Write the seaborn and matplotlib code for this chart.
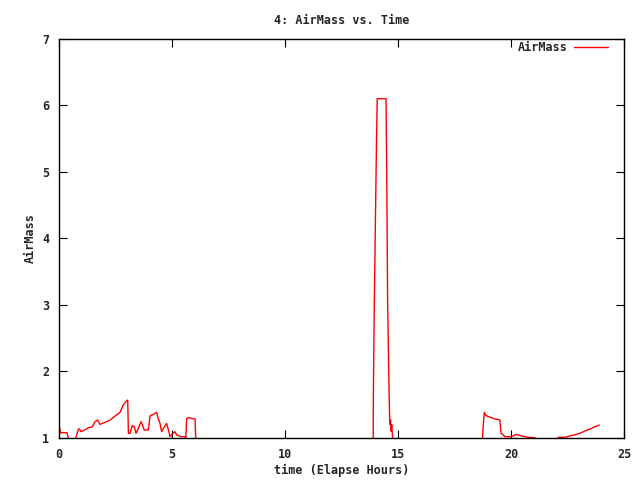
import pandas as pd
import seaborn as sns
import matplotlib.pyplot as plt

# elapsed hours and airmass (values < 1 are below the axis)
hours = [
    0.00, 0.07, 0.27, 0.35, 0.41, 0.45, 0.70, 0.74, 0.86, 0.91, 0.97, 1.22, 1.30,
    1.47, 1.59, 1.71, 1.81, 2.04, 2.26, 2.48, 2.70, 2.85, 2.99, 3.04, 3.07,
    3.14, 3.24, 3.33, 3.41, 3.51, 3.63, 3.69, 3.77, 3.95, 4.03, 4.17, 4.32,
    4.40, 4.47, 4.54, 4.62, 4.76, 4.84, 4.91, 4.99, 5.13, 5.21, 5.40, 5.58,
    5.61, 5.65, 5.72, 5.87, 6.02, 6.06, 6.10,
    13.88, 13.90, 13.91, 13.95, 14.00, 14.05, 14.08, 14.47, 14.50, 14.54,
    14.60, 14.63, 14.65, 14.67, 14.70, 14.72, 14.76, 14.78, 14.82,
    18.70, 18.73, 18.76, 18.82, 18.88, 19.00, 19.15, 19.29, 19.41, 19.51,
    19.56, 19.66, 19.73, 19.88, 19.95, 20.10, 20.21, 20.32, 20.47, 20.62,
    20.77, 21.06, 21.15,
    22.00, 22.09, 22.39, 22.61, 22.83, 23.05, 23.27, 23.50, 23.72, 23.91,
]
airmass = [
    1.195, 1.08, 1.08, 1.08, 1.00, 0.50, 0.50, 1.00, 1.135, 1.135, 1.095, 1.135, 1.155,
    1.165, 1.245, 1.27, 1.205, 1.235, 1.27, 1.33, 1.385, 1.50, 1.56, 1.57, 1.07,
    1.07, 1.185, 1.17, 1.07, 1.145, 1.245, 1.20, 1.12, 1.12, 1.335, 1.355, 1.385,
    1.285, 1.22, 1.095, 1.145, 1.22, 1.12, 1.02, 1.055, 1.095, 1.045, 1.02, 1.02,
    0.99, 1.295, 1.305, 1.295, 1.285, 0.90, 0.50,
    0.50, 0.90, 1.65, 2.97, 4.25, 5.48, 6.10, 6.10, 5.08, 3.05,
    1.80, 1.30, 1.20, 1.27, 1.10, 1.20, 1.02, 0.98, 0.50,
    0.50, 0.90, 1.145, 1.385, 1.345, 1.32, 1.305, 1.285, 1.28, 1.27,
    1.07, 1.045, 1.02, 1.02, 1.02, 1.03, 1.055, 1.045, 1.03, 1.02,
    1.01, 1.005, 0.50,
    0.50, 1.01, 1.01, 1.03, 1.05, 1.07, 1.105, 1.135, 1.17, 1.195,
]
x_ticks = [0, 5, 10, 15, 20, 25]
y_ticks = [1, 2, 3, 4, 5, 6, 7]

df = pd.DataFrame({"hours": hours, "airmass": airmass})

sns.set_style("ticks")
plt.rcParams["font.family"] = ["DejaVu Sans Mono"]
plt.rcParams["font.weight"] = "bold"

fig = plt.figure(figsize=(6.4, 4.8), dpi=100)
ax = fig.add_axes([0.0922, 0.0875, 0.8828, 0.8315])
sns.lineplot(data=df, x="hours", y="airmass", sort=False, estimator=None,
             color="#ff0000", linewidth=1, label="AirMass", ax=ax)

ax.set_xlim(0, 25)
ax.set_ylim(1, 7)
ax.set_xticks(x_ticks)
ax.set_yticks(y_ticks)
ax.tick_params(direction="in", top=True, right=True, length=6, width=0.8,
               labelsize=8.5, pad=7, color="black")
for spine in ax.spines.values():
    spine.set_visible(True)
    spine.set_linewidth(1)
    spine.set_color("black")

ax.set_title("4: AirMass vs. Time", fontsize=8.5, fontweight="bold", pad=11)
ax.set_xlabel("time (Elapse Hours)", fontsize=8.5, fontweight="bold", labelpad=2)
ax.set_ylabel("AirMass", fontsize=8.5, fontweight="bold", labelpad=4)

leg = ax.legend(loc="upper right", bbox_to_anchor=(0.975, 1.0), frameon=False,
                fontsize=8.5, handlelength=2.8, handletextpad=0.6,
                markerfirst=False, borderaxespad=0.0, borderpad=0.2)

plt.savefig("out.png", dpi=100)
